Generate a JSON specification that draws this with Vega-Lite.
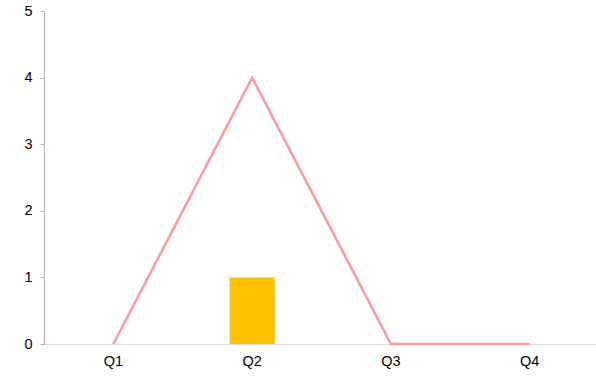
{
  "$schema": "https://vega.github.io/schema/vega-lite/v6.json",
  "autosize": "none",
  "width": 555,
  "height": 333,
  "padding": {"left": 44, "top": 11, "right": 0, "bottom": 34},
  "background": "#ffffff",
  "config": {"view": {"stroke": null}, "font": "Liberation Sans"},
  "data": {"values": [
    {"quarter": "Q1", "bar": 0, "line": 0},
    {"quarter": "Q2", "bar": 1, "line": 4},
    {"quarter": "Q3", "bar": 0, "line": 0},
    {"quarter": "Q4", "bar": 0, "line": 0}
  ]},
  "encoding": {
    "x": {"field": "quarter", "type": "nominal", "sort": null, "scale": {"paddingInner": 0, "paddingOuter": 0},
      "axis": {"title": null, "labelAngle": 0, "ticks": false, "domainColor": "#dddddd", "labelPadding": 10, "labelFontSize": 14.5, "labelColor": "#000000"}}
  },
  "layer": [
    {"mark": {"type": "bar", "color": "#FFC000", "size": 45},
     "encoding": {"y": {"field": "bar", "type": "quantitative", "scale": {"domain": [0, 5]},
       "axis": {"title": null, "grid": false, "tickCount": 5, "domainColor": "#b5b5b5", "tickColor": "#b5b5b5", "tickSize": 4, "labelPadding": 8, "labelFontSize": 14.5, "labelColor": "#000000"}}}},
    {"mark": {"type": "line", "color": "#ff9999", "strokeWidth": 2.5},
     "encoding": {"y": {"field": "line", "type": "quantitative"}}}
  ]
}
